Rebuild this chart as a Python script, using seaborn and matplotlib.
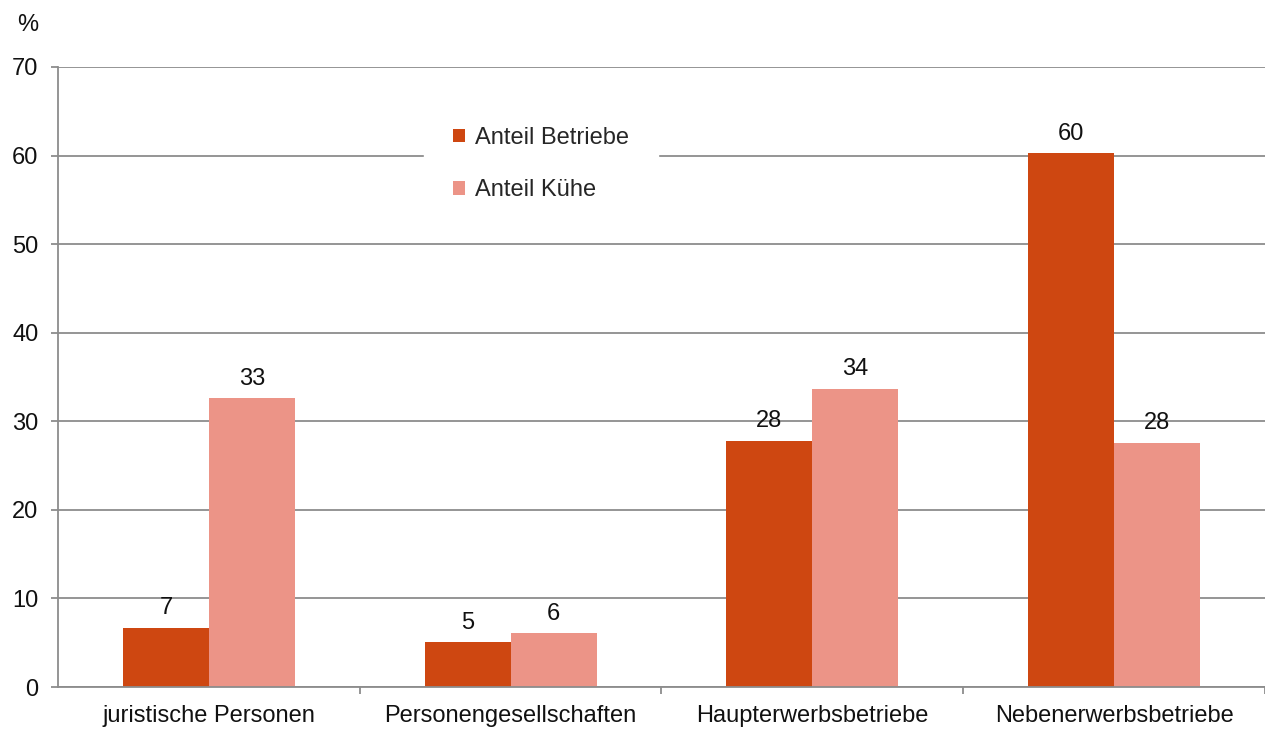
import matplotlib
matplotlib.use("Agg")
import matplotlib.pyplot as plt
import seaborn as sns
import pandas as pd
from matplotlib.ticker import FixedLocator

# Anteile nach Rechtsform / Erwerbsart
kategorien = ["juristische Personen", "Personengesellschaften",
              "Haupterwerbsbetriebe", "Nebenerwerbsbetriebe"]
anteil_betriebe = [6.7, 5.1, 27.8, 60.3]
anteil_kuehe = [32.6, 6.1, 33.7, 27.6]
serien = ["Anteil Betriebe", "Anteil Kühe"]
farben = ["#CE4711", "#EC9487"]
y_ticks = [0, 10, 20, 30, 40, 50, 60, 70]

df = pd.DataFrame({
    "Kategorie": kategorien * 2,
    "Serie": [serien[0]] * 4 + [serien[1]] * 4,
    "Wert": anteil_betriebe + anteil_kuehe,
})

sns.set_theme(style="white")
plt.rcParams["font.family"] = ["Liberation Sans", "DejaVu Sans"]

FS = 17
TXT = "#111111"

fig = plt.figure(figsize=(12.65, 7.29), dpi=100)
ax = fig.add_axes([0.0459, 0.0576, 0.954, 0.8505])

sns.barplot(data=df, x="Kategorie", y="Wert", hue="Serie", order=kategorien,
            hue_order=serien, palette=farben, saturation=1, width=0.57,
            ax=ax, edgecolor="none", linewidth=0)

for cont in ax.containers:
    ax.bar_label(cont, fmt="{:.0f}", padding=6, fontsize=FS, color=TXT)

grau = "#8c8c8c"
ax.set_ylim(0, 70)
ax.set_xlim(-0.5, 3.5)
ax.set_yticks(y_ticks)
ax.yaxis.grid(True, color=grau, linewidth=1.3)
ax.set_axisbelow(True)
for s in ["top", "right"]:
    ax.spines[s].set_visible(False)
for s in ["left", "bottom"]:
    ax.spines[s].set_color(grau)
    ax.spines[s].set_linewidth(1.3)

ax.tick_params(axis="y", which="major", direction="out", length=5, width=1.3,
               color=grau, labelsize=FS, labelcolor=TXT, pad=9, left=True)
ax.tick_params(axis="x", which="major", length=0, labelsize=FS,
               labelcolor=TXT, pad=13)
ax.xaxis.set_minor_locator(FixedLocator([0.5, 1.5, 2.5, 3.5]))
ax.tick_params(axis="x", which="minor", direction="out", length=5, width=1.3,
               color=grau, bottom=True)
ax.set_xlabel("")
ax.set_ylabel("")

fig.text(28 / 1265, 1 - 25 / 729, "%", fontsize=FS, color=TXT,
         ha="center", va="center")

leg = ax.legend(loc="center", bbox_to_anchor=(541 / 1265, 1 - 164 / 729),
                bbox_transform=fig.transFigure, frameon=True, fontsize=FS,
                handlelength=0.5, handleheight=0.5, handletextpad=0.45,
                labelspacing=1.3, borderpad=1.2)
leg.get_frame().set_facecolor("white")
leg.get_frame().set_edgecolor("white")
leg.get_frame().set_alpha(1)
leg.get_frame().set_boxstyle("square", pad=0)
leg.set_zorder(5)

fig.savefig("out.png", dpi=100, facecolor="white")
